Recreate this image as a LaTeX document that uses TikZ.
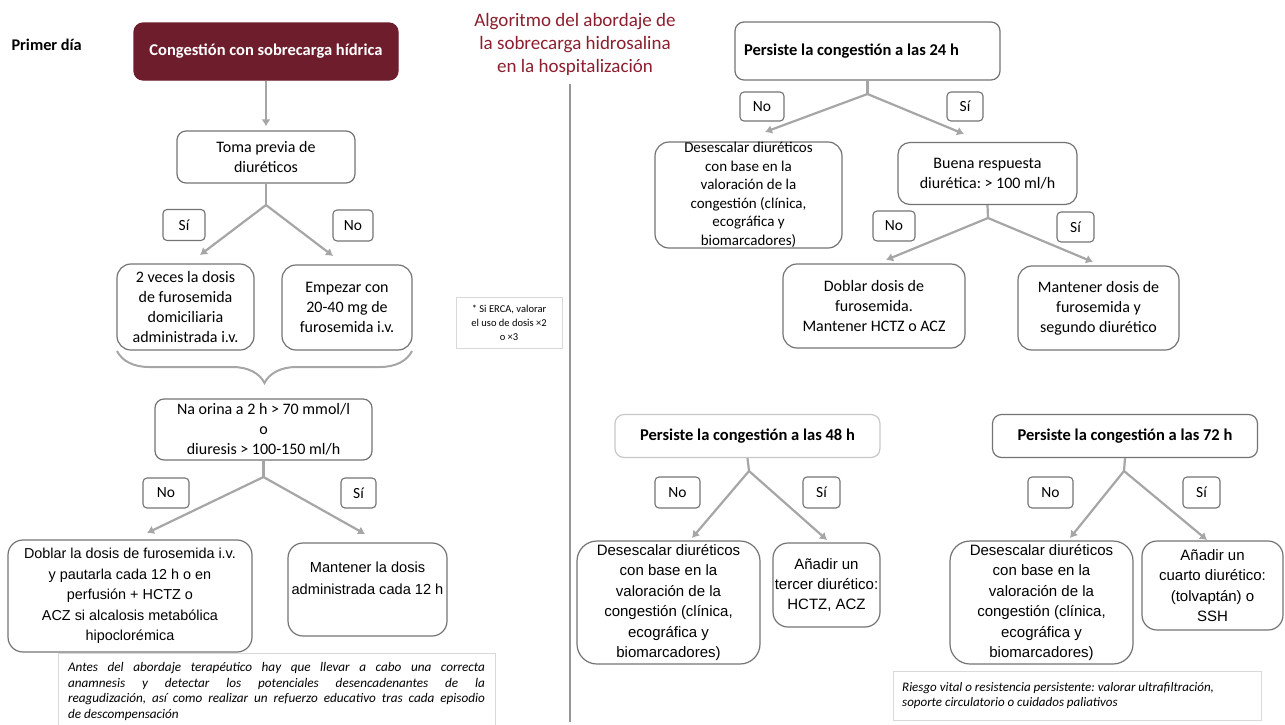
\documentclass[tikz,border=0pt]{standalone}
\usepackage{fontspec}
\setmainfont{Carlito}
\newfontfamily\arialfont{Liberation Sans}
\usepackage{tikz}
\usetikzlibrary{arrows.meta}
\usetikzlibrary{decorations.pathreplacing}
\frenchspacing

\definecolor{vino}{RGB}{110,29,45}
\definecolor{titulo}{RGB}{140,30,45}
\definecolor{borde}{RGB}{115,115,115}
\definecolor{flecha}{RGB}{166,166,166}
\definecolor{nota}{RGB}{217,217,217}
\definecolor{separa}{RGB}{150,150,150}

\tikzset{
	box/.style={draw=borde, line width=1.2pt, rounded corners=9pt, align=center, inner sep=0pt, font=\fontsize{16}{20}\selectfont},
	abox/.style={box, rounded corners=15pt, font=\arialfont\fontsize{15}{21}\selectfont},
	lab/.style={draw=borde, line width=1.1pt, rounded corners=4pt, inner sep=0pt, font=\fontsize{15.5}{18}\selectfont},
	notebox/.style={draw=nota, line width=0.8pt, inner sep=0pt},
	lin/.style={draw=flecha, line width=2.2pt},
	arr/.style={lin, -{Latex[length=7pt,width=9pt]}},
	hdr/.style={box, font=\bfseries\fontsize{16.5}{20}\selectfont, minimum width=265, minimum height=43}
}

\begin{document}
\begin{tikzpicture}[x=1pt,y=-1pt]
	\useasboundingbox (0,0) rectangle (1285,724);

	\node[anchor=west, font=\bfseries\fontsize{16.3}{19}\selectfont] (primer) at (8,45) {Primer día};
	\node[box, fill=vino, draw=vino, text=white, font=\bfseries\fontsize{16.5}{20}\selectfont, minimum width=264, minimum height=57] (cong) at (266,51.5) {Congestión con sobrecarga hídrica};
	\node[box, minimum width=178, minimum height=52] (toma) at (266,157) {Toma previa de\\diuréticos};
	\draw[arr, shorten >=4pt] (cong.south) -- (toma.north);

	\coordinate (b1) at (266,205);
	\coordinate (t1) at (200,255);
	\coordinate (t2) at (333,256);
	\draw[lin] (toma.south) -- (b1);
	\draw[arr] (b1) -- (t1);
	\draw[arr] (b1) -- (t2);
	\node[lab, minimum width=42, minimum height=31] (si1) at (184,225) {Sí};
	\node[lab, minimum width=40, minimum height=31] (no1) at (353,225.5) {No};

	\node[box, minimum width=137, minimum height=86, rounded corners=14pt] (dos) at (185.5,307) {2 veces la dosis\\de furosemida\\domiciliaria\\administrada i.v.};
	\node[box, minimum width=130, minimum height=85, rounded corners=14pt] (emp) at (347,307.5) {Empezar con\\20-40 mg de\\furosemida i.v.};

	\coordinate (bl) at (117,351);
	\coordinate (br) at (412,351);
	\draw[draw=flecha, line width=2pt, decorate, decoration={brace, mirror, amplitude=32pt}] (bl) -- (br);

	\node[box, minimum width=217, minimum height=61] (na) at (263.5,429.5) {Na orina a 2 h > 70 mmol/l\\o\\diuresis > 100-150 ml/h};
	\coordinate (b2) at (263.5,477);
	\coordinate (t3) at (147,533);
	\coordinate (t4) at (365,534);
	\draw[lin] (na.south) -- (b2);
	\draw[arr] (b2) -- (t3);
	\draw[arr] (b2) -- (t4);
	\node[lab, minimum width=46, minimum height=30] (no2) at (166,493) {No};
	\node[lab, minimum width=35, minimum height=30] (si2) at (358.5,493) {Sí};

	\node[abox, font=\arialfont\fontsize{14.4}{20.5}\selectfont, minimum width=244, minimum height=112] (dob) at (130,596) {Doblar la dosis de furosemida i.v.\\y pautarla cada 12 h o en\\perfusión + HCTZ o\\ACZ si alcalosis metabólica\\hipoclorémica};
	\node[abox, font=\arialfont\fontsize{14.6}{22}\selectfont, minimum width=159, minimum height=93] (man) at (367.5,589.5) {Mantener la dosis\\administrada cada 12 h\\\mbox{}};

	\node[notebox, align=left, font=\itshape\fontsize{13.2}{15.5}\selectfont, minimum width=437, minimum height=77] (nota1) at (276.5,691.5) {\makebox[417pt][s]{Antes del abordaje terapéutico hay que llevar a cabo una correcta}\\\makebox[417pt][s]{anamnesis y detectar los potenciales desencadenantes de la}\\\makebox[417pt][s]{reagudización, así como realizar un refuerzo educativo tras cada episodio}\\\makebox[417pt][l]{de descompensación}};

	\node[text=titulo, align=center, font=\fontsize{19}{23}\selectfont] (tit) at (575,44) {Algoritmo del abordaje de\\la sobrecarga hidrosalina\\en la hospitalización};
	\coordinate (s1) at (570,84);
	\coordinate (s2) at (570,722);
	\draw[draw=separa, line width=2.6pt] (s1) -- (s2);

	\node[notebox, font=\fontsize{10.5}{14}\selectfont, align=center, minimum width=106, minimum height=51] (erca) at (509,322.5) {* Si ERCA, valorar\\el uso de dosis ×2\\o ×3};

	\node[hdr, minimum height=58] (p24) at (867.5,51) {Persiste la congestión a las 24 h\hspace*{32pt}};
	\coordinate (b3) at (867.5,94);
	\coordinate (t5) at (765,132);
	\coordinate (t6) at (964,134);
	\draw[lin] (p24.south) -- (b3);
	\draw[arr] (b3) -- (t5);
	\draw[arr] (b3) -- (t6);
	\node[lab, minimum width=44, minimum height=29] (no3) at (762,106.5) {No};
	\node[lab, minimum width=36, minimum height=29] (si3) at (965,106.5) {Sí};

	\node[box, font=\fontsize{15}{18.5}\selectfont, minimum width=187, minimum height=106, rounded corners=14pt] (des1) at (748.5,195) {Desescalar diuréticos\\con base en la\\valoración de la\\congestión (clínica,\\ecográfica y\\biomarcadores)};
	\node[box, minimum width=179, minimum height=62, rounded corners=12pt] (buena) at (987.5,173.5) {Buena respuesta\\diurética: > 100 ml/h};
	\coordinate (b4) at (988,218);
	\coordinate (t7) at (886,260);
	\coordinate (t8) at (1093,262);
	\draw[lin] (buena.south) -- (b4);
	\draw[arr] (b4) -- (t7);
	\draw[arr] (b4) -- (t8);
	\node[lab, minimum width=42, minimum height=30] (no4) at (894,226) {No};
	\node[lab, minimum width=37, minimum height=30] (si4) at (1075.5,227) {Sí};

	\node[box, minimum width=182, minimum height=84, rounded corners=14pt] (dob2) at (874,306) {Doblar dosis de\\furosemida.\\Mantener HCTZ o ACZ};
	\node[box, minimum width=161, minimum height=84, rounded corners=14pt] (man2) at (1098.5,308) {Mantener dosis de\\furosemida y\\segundo diurético};

	\node[hdr, draw=black!22] (p48) at (747.5,436) {Persiste la congestión a las 48 h};
	\coordinate (b5) at (749,471);
	\coordinate (t9) at (692,538);
	\coordinate (t10) at (827,540);
	\draw[lin] (p48.south) -- (b5);
	\draw[arr] (b5) -- (t9);
	\draw[arr] (b5) -- (t10);
	\node[lab, minimum width=45, minimum height=31] (no5) at (677.5,492.5) {No};
	\node[lab, minimum width=37, minimum height=31] (si5) at (821.5,492.5) {Sí};

	\node[hdr] (p72) at (1125,436) {Persiste la congestión a las 72 h};
	\coordinate (b6) at (1124,471);
	\coordinate (t11) at (1070,538);
	\coordinate (t12) at (1207,540);
	\draw[lin] (p72.south) -- (b6);
	\draw[arr] (b6) -- (t11);
	\draw[arr] (b6) -- (t12);
	\node[lab, minimum width=45, minimum height=31] (no6) at (1050.5,492.5) {No};
	\node[lab, minimum width=37, minimum height=31] (si6) at (1201.5,492.5) {Sí};

	\node[abox, font=\arialfont\fontsize{15}{20.5}\selectfont, minimum width=183, minimum height=123, rounded corners=20pt] (des2) at (668.5,602.5) {Desescalar diuréticos\\con base en la\\valoración de la\\congestión (clínica,\\ecográfica y\\biomarcadores)};
	\node[abox, font=\arialfont\fontsize{15}{20}\selectfont, minimum width=107, minimum height=84] (ana3) at (826.5,585) {Añadir un\\tercer diurético:\\HCTZ, ACZ};
	\node[abox, font=\arialfont\fontsize{15}{20.5}\selectfont, minimum width=183, minimum height=123, rounded corners=20pt] (des3) at (1041.5,602.5) {Desescalar diuréticos\\con base en la\\valoración de la\\congestión (clínica,\\ecográfica y\\biomarcadores)};
	\node[abox, font=\arialfont\fontsize{15}{20.5}\selectfont, minimum width=141, minimum height=89] (ana4) at (1212.5,585.5) {Añadir un\\cuarto diurético:\\(tolvaptán) o\\SSH};

	\node[notebox, minimum width=368, minimum height=49] (nota2) at (1077,695.5) {};
	\node[anchor=west, align=left, inner sep=0pt, font=\itshape\fontsize{13}{15.5}\selectfont] (riesgo) at (902,695.5) {Riesgo vital o resistencia persistente: valorar ultrafiltración,\\soporte circulatorio o cuidados paliativos};
\end{tikzpicture}
\end{document}
